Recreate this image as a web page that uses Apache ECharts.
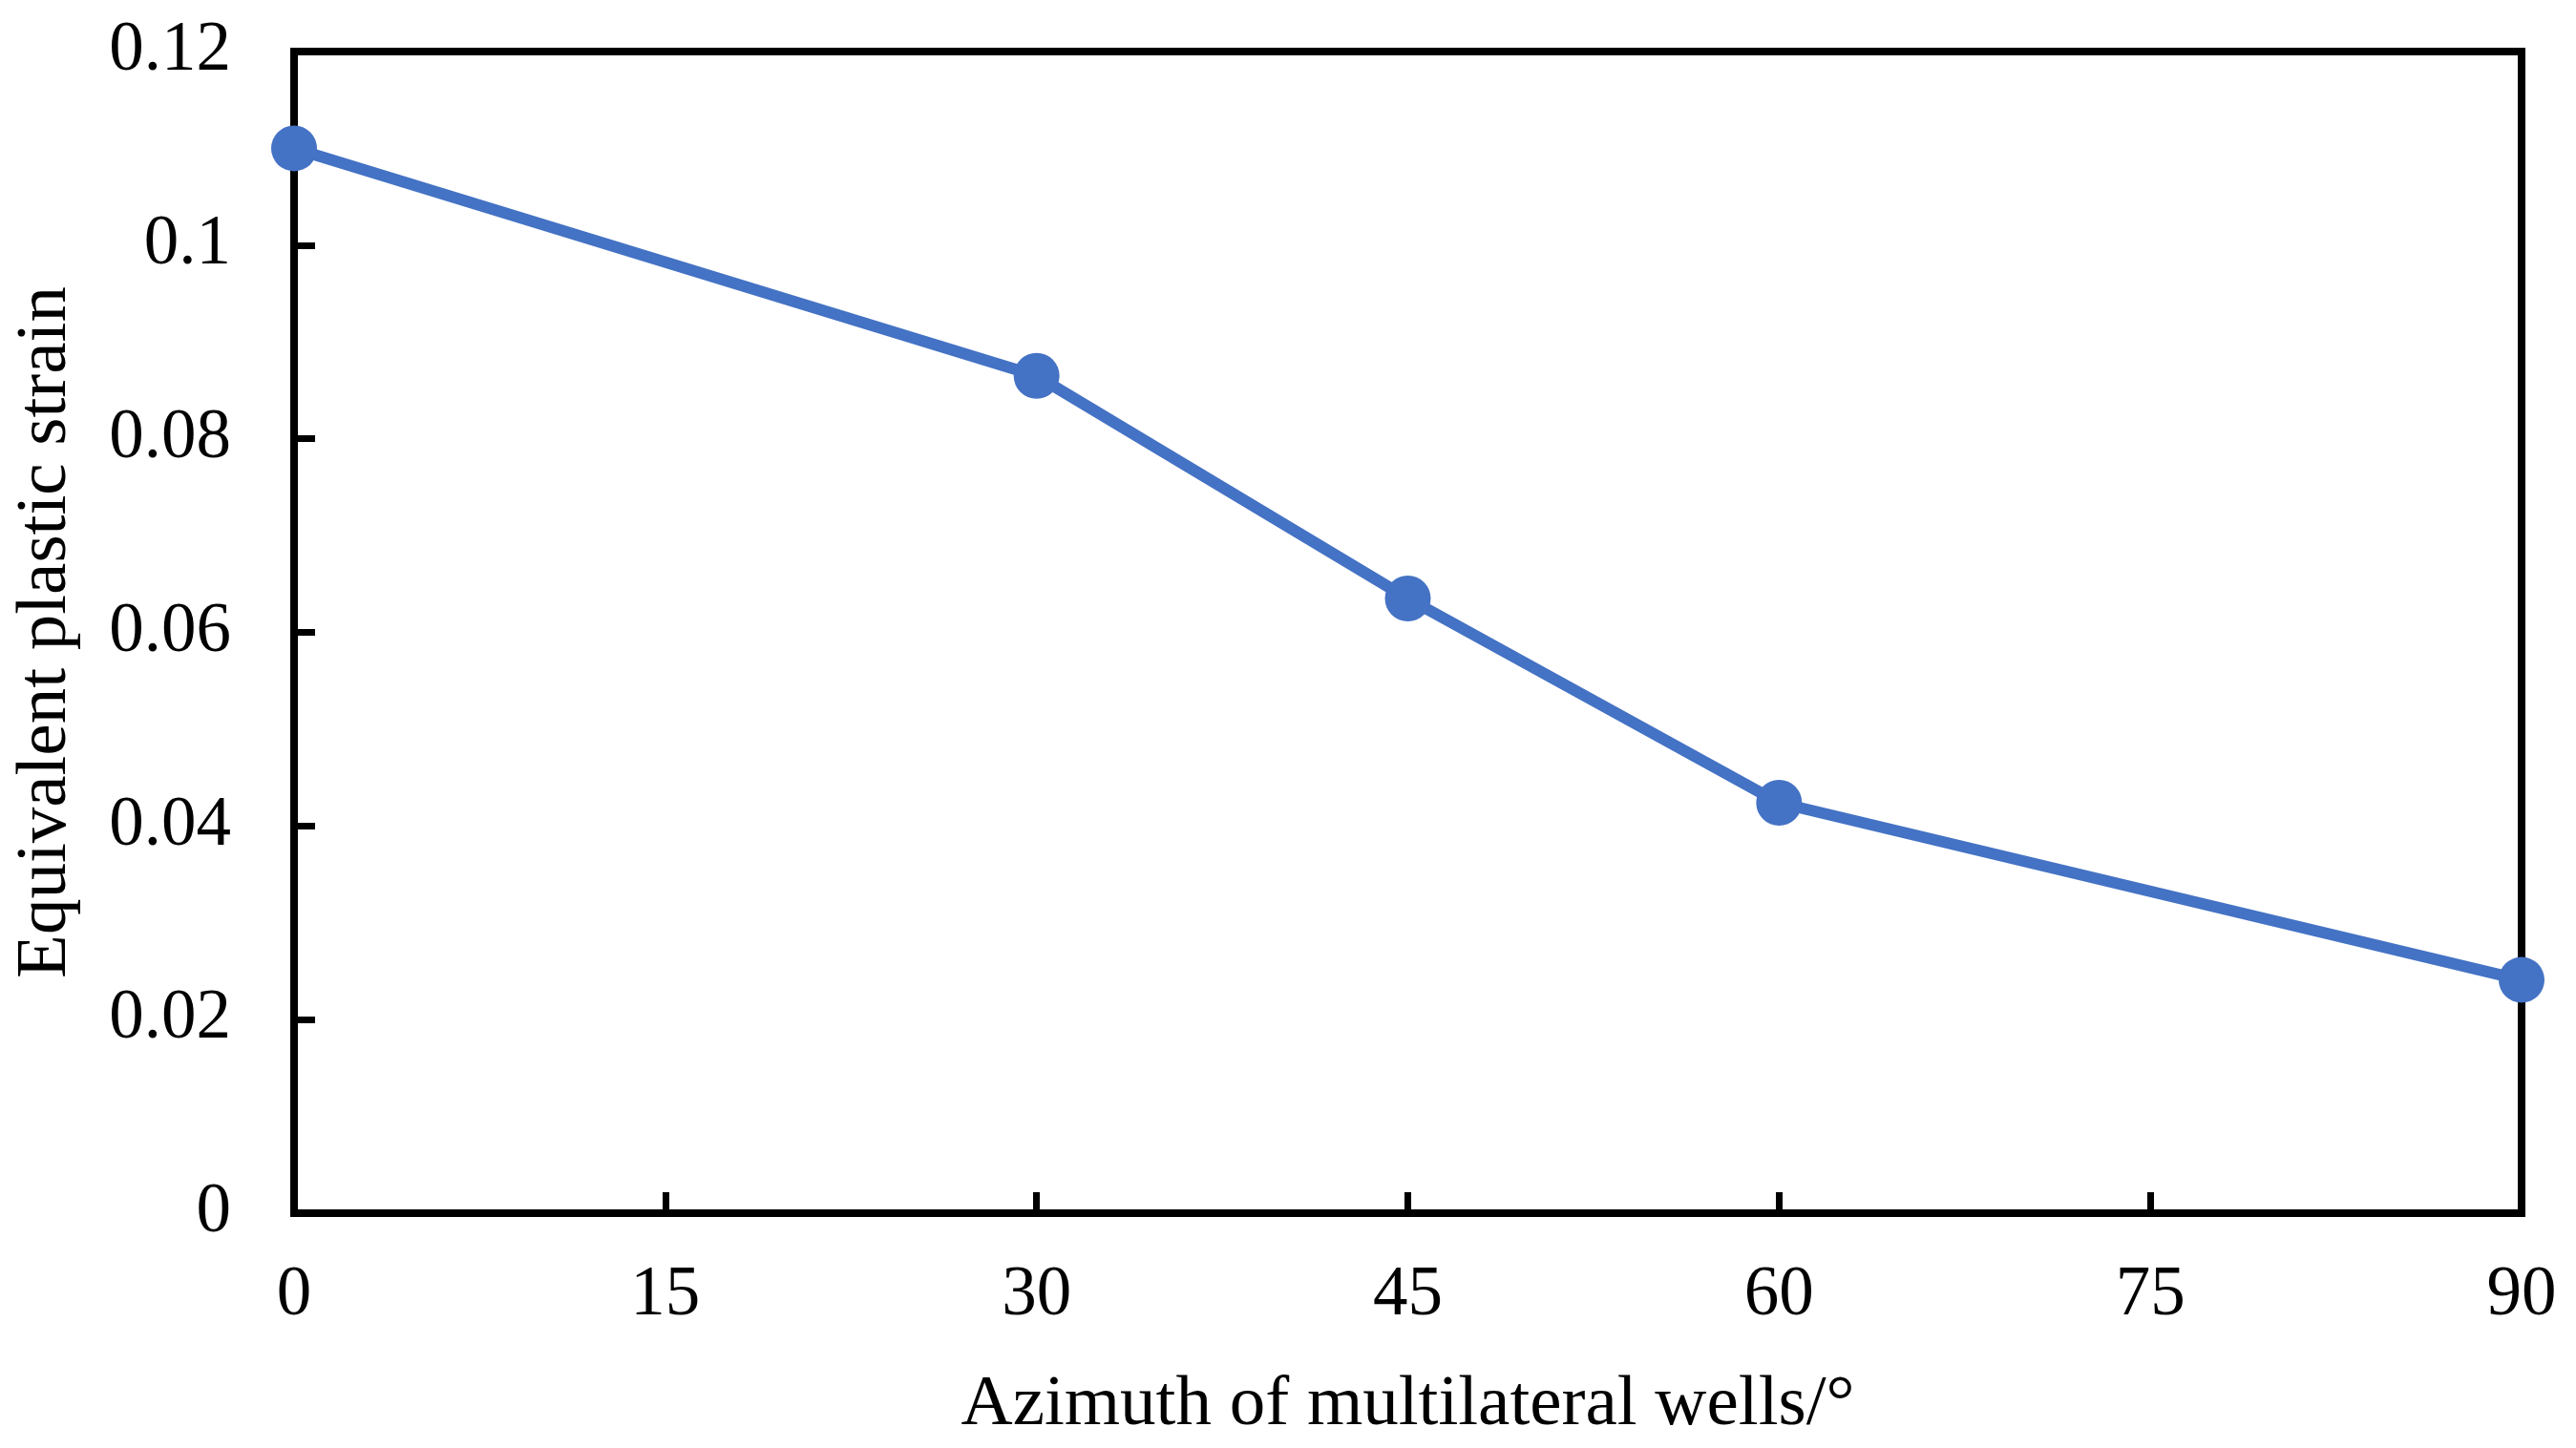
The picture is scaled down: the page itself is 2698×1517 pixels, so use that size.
<!DOCTYPE html>
<html>
<head>
<meta charset="utf-8">
<script src="https://cdn.jsdelivr.net/npm/echarts@6/dist/echarts.min.js"></script>
<style>
html,body{margin:0;padding:0;background:#fff;}
#chart{width:2698px;height:1517px;}
</style>
</head>
<body>
<div id="chart"></div>
<script>
const azimuth = [0, 30, 45, 60, 90];
const strain = [0.110, 0.0865, 0.0635, 0.0424, 0.0241];
const xTitle = 'Azimuth of multilateral wells/°';
const yTitle = 'Equivalent plastic strain';

const font = '"Liberation Serif", "Times New Roman", serif';
const chart = echarts.init(document.getElementById('chart'), null, {renderer: 'canvas'});
chart.setOption({
  backgroundColor: '#fff',
  animation: false,
  grid: {left: 308, right: 57, top: 54, bottom: 246, show: true, borderColor: '#000', borderWidth: 8, backgroundColor: 'transparent'},
  xAxis: {
    type: 'value', min: 0, max: 90, interval: 15,
    name: xTitle, nameLocation: 'middle', nameGap: 164,
    nameTextStyle: {fontFamily: font, fontSize: 75, color: '#000'},
    axisLine: {show: true, lineStyle: {color: '#000', width: 8}},
    axisTick: {show: true, inside: true, length: 22, lineStyle: {color: '#000', width: 7}},
    axisLabel: {margin: 50, fontFamily: font, fontSize: 73, color: '#000'},
    splitLine: {show: false}
  },
  yAxis: {
    type: 'value', min: 0, max: 0.12, interval: 0.02,
    name: yTitle, nameLocation: 'middle', nameGap: 222,
    nameTextStyle: {fontFamily: font, fontSize: 75, color: '#000'},
    axisLine: {show: true, lineStyle: {color: '#000', width: 8}},
    axisTick: {show: true, inside: true, length: 22, lineStyle: {color: '#000', width: 7}},
    axisLabel: {margin: 66, fontFamily: font, fontSize: 73, color: '#000'},
    splitLine: {show: false}
  },
  series: [{
    type: 'line',
    data: azimuth.map((a, i) => [a, strain[i]]),
    symbol: 'circle', symbolSize: 48,
    lineStyle: {color: '#4472C4', width: 12},
    itemStyle: {color: '#4472C4'},
    clip: false
  }]
});
</script>
</body>
</html>
